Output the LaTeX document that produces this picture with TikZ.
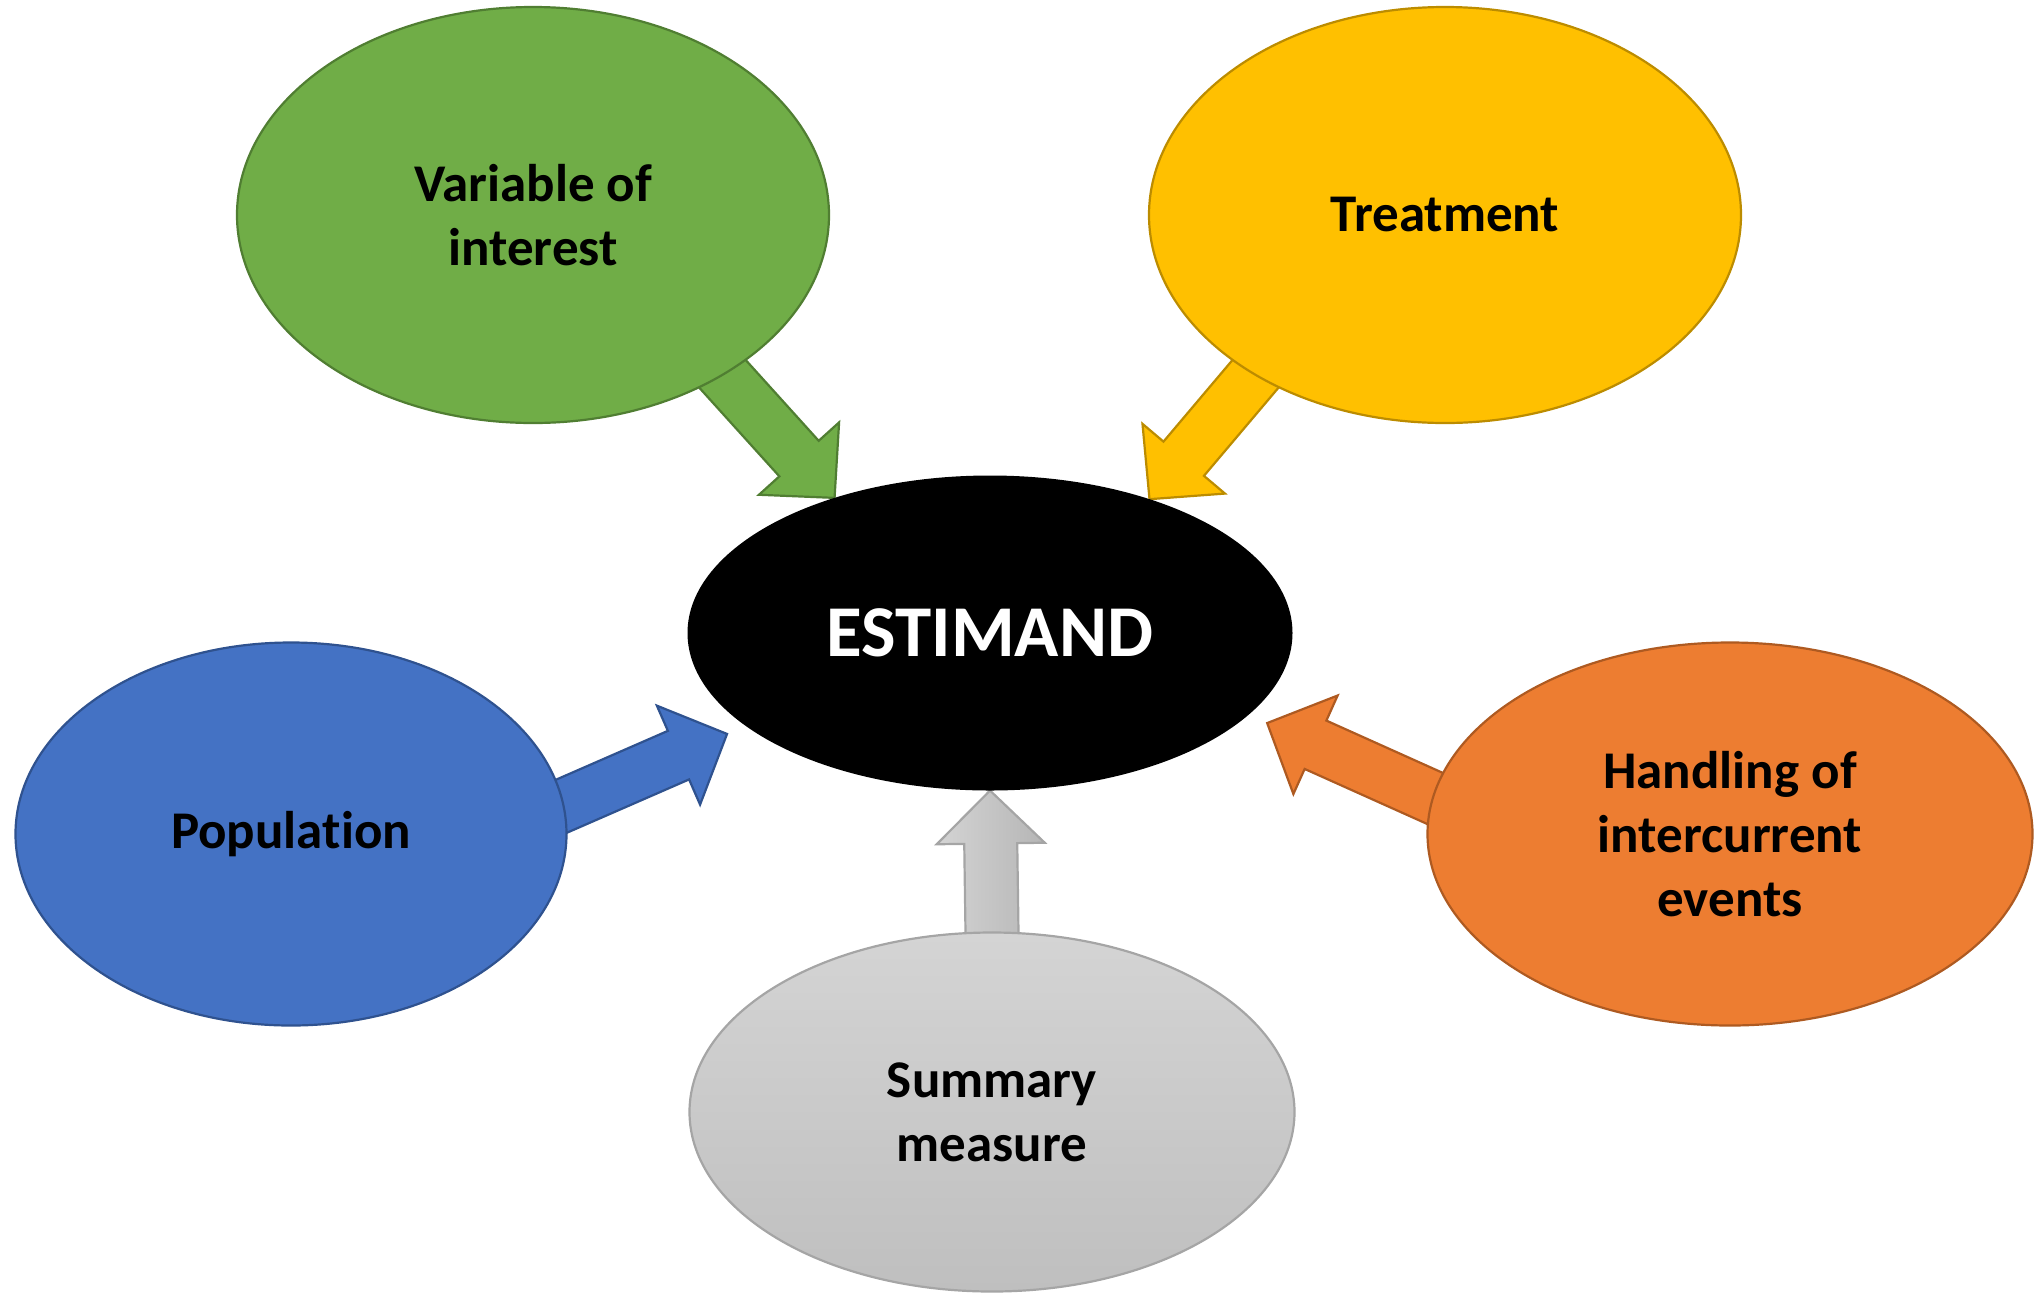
\documentclass[tikz,border=0pt]{standalone}
\usepackage{fontspec}
\setmainfont[Ligatures={NoCommon,NoContextual,NoRequired},Contextuals=NoAlternate]{Carlito}
\usetikzlibrary{shapes.geometric,calc}

\definecolor{varfill}{HTML}{70AD47}
\definecolor{varline}{HTML}{507E32}
\definecolor{trtfill}{HTML}{FFC000}
\definecolor{trtline}{HTML}{BC8C00}
\definecolor{popfill}{HTML}{4472C4}
\definecolor{popline}{HTML}{2F528F}
\definecolor{icefill}{HTML}{ED7D31}
\definecolor{iceline}{HTML}{AE5A21}
\definecolor{sumtop}{HTML}{D4D4D4}
\definecolor{sumbot}{HTML}{BFBFBF}
\definecolor{sumline}{HTML}{A5A5A5}

\pgfdeclarelayer{back}
\pgfsetlayers{back,main}

% block arrow from #2 (inside the source) to the tip #3
\newcommand{\blockarrow}[3]{%
  \coordinate (tail) at ($(#2)!-20pt!(#3)$);
  \coordinate (tip) at (#3);
  \coordinate (base) at ($(tip)!26.5pt!(tail)$);
  \draw[#1] ($(tail)!13.25pt!90:(tip)$) -- ($(base)!13.25pt!-90:(tail)$)
    -- ($(base)!27pt!-90:(tail)$) -- (tip) -- ($(base)!27pt!90:(tail)$)
    -- ($(base)!13.25pt!90:(tail)$) -- ($(tail)!13.25pt!-90:(tip)$) -- cycle;
}

\begin{document}
\begin{tikzpicture}[x=0.5pt, y=-0.5pt,
    part/.style={ellipse, draw, line width=1.1pt, inner sep=0pt, outer sep=0pt, align=center,
      font=\fontsize{26.5pt}{32pt}\selectfont\bfseries},
    barrow/.style={line width=1.1pt, line join=miter}]
  \useasboundingbox (0,0) rectangle (2041,1292);

  \node [part, fill=black, draw=none, minimum width=302.5pt, minimum height=157.5pt,
    text=white, font=\fontsize{36.5pt}{44pt}\selectfont\bfseries] (estimand) at (990,633) {ESTIMAND};
  \node [part, fill=varfill, draw=varline, minimum width=296pt, minimum height=208pt] (variable) at (533,215) {Variable of\\interest};
  \node [part, fill=trtfill, draw=trtline, minimum width=296pt, minimum height=208pt] (treatment) at (1445,215) {Treatment};
  \node [part, fill=popfill, draw=popline, minimum width=275.5pt, minimum height=191.5pt] (population) at (291,834) {Population};
  \node [part, fill=icefill, draw=iceline, minimum width=302.5pt, minimum height=191.5pt] (intercurrent) at (1730,834) {Handling of\\intercurrent\\events};
  \node [part, top color=sumtop, bottom color=sumbot, draw=sumline, minimum width=302.5pt, minimum height=179.5pt] (summary) at (992,1112) {Summary\\measure};

  \begin{pgfonlayer}{back}
    \blockarrow{barrow, fill=varfill, draw=varline}{variable.-40}{estimand.139}
    \blockarrow{barrow, fill=trtfill, draw=trtline}{treatment.220}{estimand.40}
    \blockarrow{barrow, fill=popfill, draw=popline}{population.6}{$(estimand.center)!1.08!(estimand.201)$}
    \blockarrow{barrow, fill=icefill, draw=iceline}{intercurrent.173}{$(estimand.center)!1.08!(estimand.342)$}
    \blockarrow{barrow, left color=sumtop, right color=sumbot!95!black, draw=sumline}{summary.north}{estimand.south}
  \end{pgfonlayer}
\end{tikzpicture}
\end{document}
